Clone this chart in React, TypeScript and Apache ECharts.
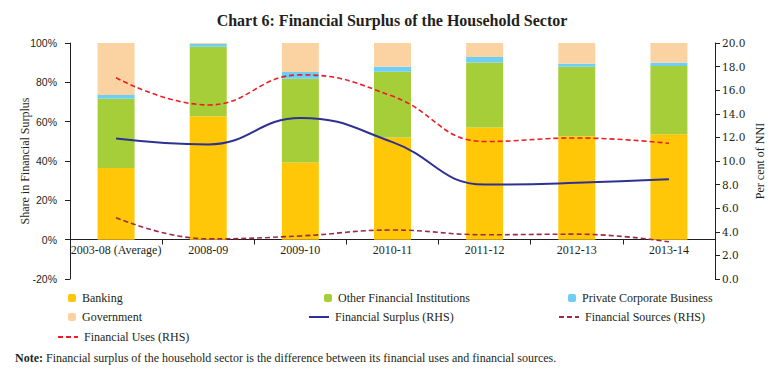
import React, { useEffect, useRef } from "react";
import * as echarts from "echarts";

const categories = ["2003-08 (Average)", "2008-09", "2009-10", "2010-11", "2011-12", "2012-13", "2013-14"];
const banking = [36.4, 62.8, 39.3, 51.9, 57.0, 52.6, 53.6];
const otherFI = [35.2, 35.3, 42.5, 33.5, 33.1, 35.3, 34.7];
const privateCorp = [1.9, 1.4, 3.4, 2.5, 2.8, 1.6, 1.6];
const government = [26.5, 0.5, 14.8, 12.1, 7.1, 10.5, 10.1];
const financialSurplus = [11.9, 11.4, 13.65, 11.6, 8.0, 8.15, 8.45];
const financialSources = [5.2, 3.4, 3.65, 4.15, 3.75, 3.8, 3.15];
const financialUses = [17.05, 14.75, 17.3, 15.5, 11.65, 11.95, 11.5];
const leftTicks = { min: -20, max: 100, interval: 20 };
const rightTicks = { min: 0, max: 20, interval: 2 };

const SERIF = "Liberation Serif";
const C_BANK = "#FFC708";
const C_OFI = "#A6CE39";
const C_PCB = "#6DCFF6";
const C_GOV = "#FBD2A2";
const C_SUR = "#2E3192";
const C_SRC = "#9E2A4B";
const C_USE = "#ED1C24";

export default function App() {
  const ref = useRef<HTMLDivElement>(null);
  useEffect(() => {
    if (!ref.current) return;
    const chart = echarts.init(ref.current, null, { renderer: "svg" });
    const leg = (name: string, left: number, top: number, line: boolean) => {
      const o: any = {
        data: [name],
        left,
        top,
        orient: "horizontal",
        itemWidth: line ? 20 : 8,
        itemHeight: line ? 10 : 8,
        itemGap: 0,
        padding: 0,
        textStyle: { fontFamily: SERIF, fontSize: 12, color: "#231f20", padding: [0, 0, 0, 1] },
      };
      if (line) o.itemStyle = { opacity: 0 };
      return o;
    };
    const barSeries = (name: string, data: number[], color: string) => ({
      name,
      type: "bar",
      stack: "s",
      data,
      barWidth: 37,
      itemStyle: { color },
      yAxisIndex: 0,
    });
    const lineSeries = (name: string, data: number[], color: string, type: any, width: number) => ({
      name,
      type: "line",
      data,
      yAxisIndex: 1,
      smooth: 0.45,
      symbol: "none",
      showSymbol: false,
      lineStyle: { color, type, width },
      itemStyle: { color },
      z: 5,
    });
    chart.setOption({
      animation: false,
      title: {
        text: "Chart 6: Financial Surplus of the Household Sector",
        left: "center",
        top: 7,
        textStyle: { fontFamily: SERIF, fontSize: 16, fontWeight: "bold", color: "#231f20" },
      },
      grid: { left: 70, right: 69, top: 43, bottom: 100, containLabel: false },
      legend: [
        leg("Banking", 68, 292, false),
        leg("Government", 68, 311, false),
        leg("Financial Uses (RHS)", 57, 331, true),
        leg("Other Financial Institutions", 324, 292, false),
        leg("Financial Surplus (RHS)", 308, 311, true),
        leg("Private Corporate Business", 568, 292, false),
        leg("Financial Sources (RHS)", 558, 311, true),
      ],
      xAxis: {
        type: "category",
        data: categories,
        boundaryGap: true,
        offset: -39.5,
        axisLine: { onZero: false, lineStyle: { color: "#231f20", width: 1 } },
        axisTick: { show: true, length: 5, lineStyle: { color: "#231f20" } },
        axisLabel: { fontFamily: SERIF, fontSize: 12, color: "#231f20", margin: 4, interval: 0 },
      },
      yAxis: [
        {
          type: "value",
          min: leftTicks.min,
          max: leftTicks.max,
          interval: leftTicks.interval,
          name: "Share in Financial Surplus",
          nameLocation: "middle",
          nameRotate: 90,
          nameGap: 45,
          nameMoveOverlap: false,
          nameTextStyle: { fontFamily: SERIF, fontSize: 12, color: "#231f20", verticalAlign: "middle" },
          axisLine: { show: true, lineStyle: { color: "#231f20" } },
          axisTick: { show: true, length: 5, lineStyle: { color: "#231f20" } },
          splitLine: { show: false },
          axisLabel: {
            fontFamily: "Liberation Sans",
            fontSize: 10.5,
            color: "#231f20",
            margin: 13,
            formatter: (v: number) => `${v}%`,
          },
        },
        {
          type: "value",
          position: "right",
          min: rightTicks.min,
          max: rightTicks.max,
          interval: rightTicks.interval,
          name: "Per cent of NNI",
          nameLocation: "middle",
          nameRotate: 90,
          nameGap: 45,
          nameMoveOverlap: false,
          nameTextStyle: { fontFamily: SERIF, fontSize: 12, color: "#231f20", verticalAlign: "middle" },
          axisLine: { show: true, lineStyle: { color: "#231f20" } },
          axisTick: { show: true, length: 5, lineStyle: { color: "#231f20" } },
          splitLine: { show: false },
          axisLabel: {
            fontFamily: "DejaVu Serif",
            fontSize: 10.5,
            color: "#231f20",
            margin: 7,
            formatter: (v: number) => v.toFixed(1),
          },
        },
      ],
      series: [
        barSeries("Banking", banking, C_BANK),
        barSeries("Other Financial Institutions", otherFI, C_OFI),
        barSeries("Private Corporate Business", privateCorp, C_PCB),
        barSeries("Government", government, C_GOV),
        lineSeries("Financial Surplus (RHS)", financialSurplus, C_SUR, "solid", 2),
        lineSeries("Financial Sources (RHS)", financialSources, C_SRC, [5, 3], 1.6),
        lineSeries("Financial Uses (RHS)", financialUses, C_USE, [5, 3], 1.6),
      ],
      graphic: [
        {
          type: "rect",
          shape: { x: 4.5, y: -2, width: 772, height: 379.5 },
          style: { fill: "none", stroke: "#231f20", lineWidth: 1 },
          silent: true,
        },
        {
          type: "text",
          left: 15,
          top: 352,
          style: {
            text: "{b|Note:} Financial surplus of the household sector is the difference between its financial uses and financial sources.",
            font: `12px "${SERIF}"`,
            fill: "#231f20",
            rich: {
              b: { fontFamily: SERIF, fontSize: 12, fontWeight: "bold", fill: "#231f20" },
            },
          },
        },
      ],
    });
    return () => chart.dispose();
  }, []);
  return <div ref={ref} style={{ width: 784, height: 379, margin: -8 }} />;
}
